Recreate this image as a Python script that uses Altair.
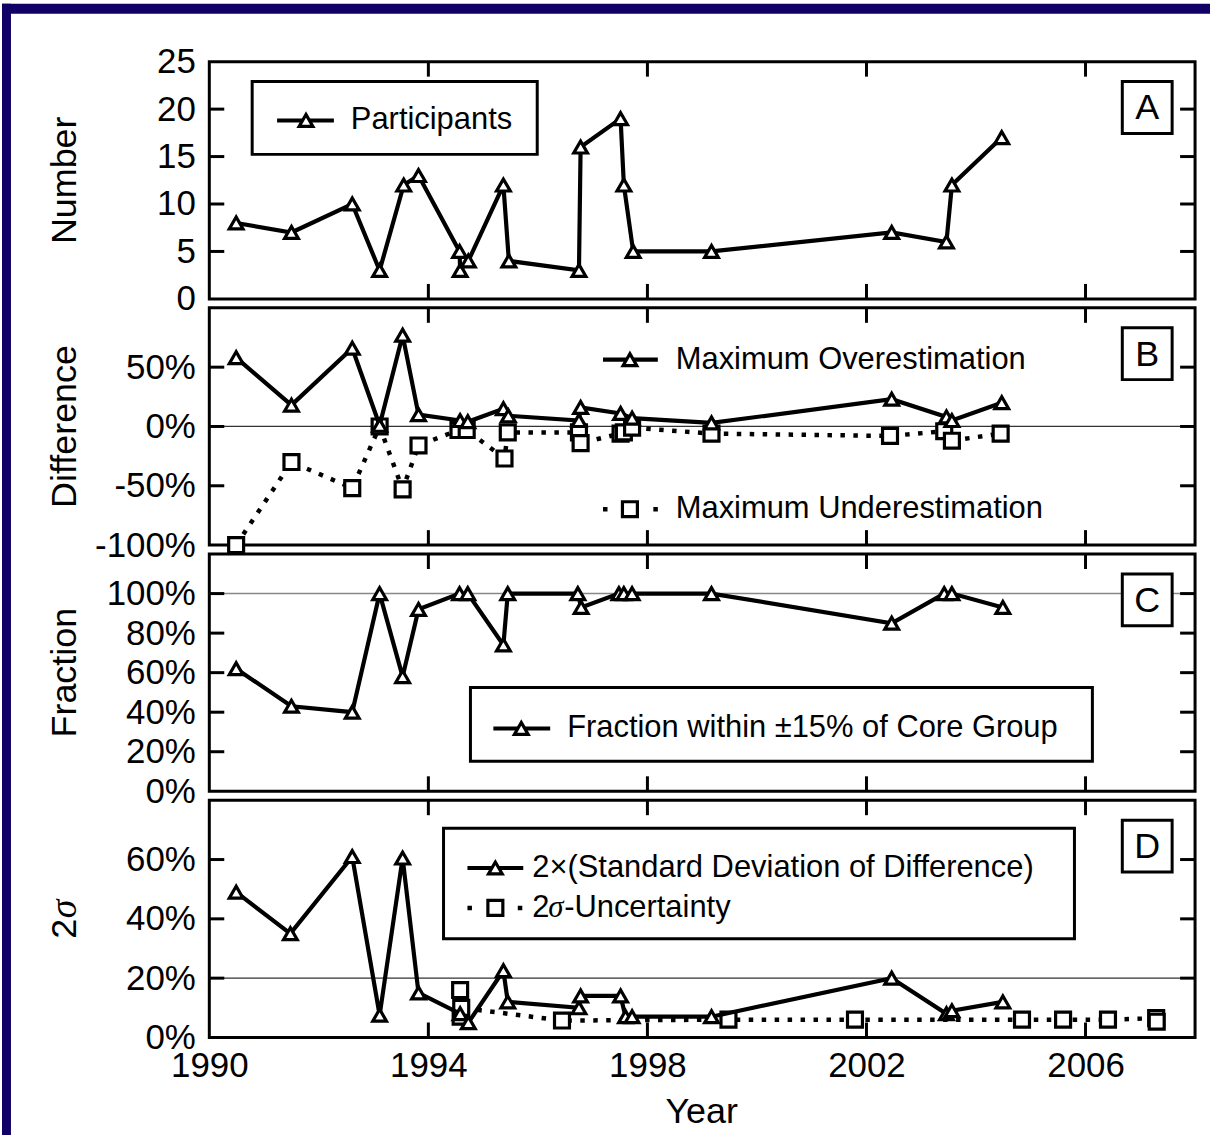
import altair as alt
import pandas as pd

FONT = "Liberation Sans"
NAVY = "#110066"
W, H = 989, 238

# ---------------- data ----------------
years_A = [1990.49, 1991.50, 1992.61, 1993.11, 1993.55, 1993.82, 1994.57, 1994.58, 1994.73,
           1995.37, 1995.47, 1996.75, 1996.78, 1997.51, 1997.57, 1997.74, 1999.17, 2002.46,
           2003.46, 2003.56, 2004.47]
participants = [8, 7, 10, 3, 12, 13, 5, 3, 4, 12, 4, 3, 16, 19, 12, 5, 5, 7, 6, 12, 17]

over_years = [1990.49, 1991.50, 1992.61, 1993.11, 1993.53, 1993.82, 1994.58, 1994.72, 1995.37,
              1995.46, 1996.75, 1996.78, 1997.51, 1997.72, 1999.17, 2002.46, 2003.46, 2003.56,
              2004.47]
over_pct = [58, 18, 66, 1, 77, 10, 5, 4, 15, 9, 5, 16, 11, 7, 3, 23, 8, 5, 20]

under_years = [1990.49, 1991.50, 1992.61, 1993.11, 1993.53, 1993.82, 1994.55, 1994.70, 1995.39,
               1995.45, 1996.75, 1996.78, 1997.51, 1997.57, 1997.72, 1999.17, 2002.43, 2003.42,
               2003.56, 2004.45]
under_pct = [-100, -30, -52, 0, -53, -16, -3, -3, -27, -5, -5, -14, -6, -5, -1, -6, -8, -4, -12, -6]

frac_years = [1990.49, 1991.50, 1992.61, 1993.11, 1993.53, 1993.82, 1994.57, 1994.72, 1995.37,
              1995.45, 1996.73, 1996.79, 1997.48, 1997.57, 1997.72, 1999.17, 2002.46, 2003.42,
              2003.56, 2004.49]
frac_pct = [62, 43, 40, 100, 58, 92, 100, 100, 74, 100, 100, 93, 100, 100, 100, 100, 85, 100, 100, 93]

sd_years = [1990.49, 1991.48, 1992.61, 1993.11, 1993.53, 1993.82, 1994.58, 1994.73, 1995.37,
            1995.45, 1996.75, 1996.78, 1997.51, 1997.60, 1997.72, 1999.17, 2002.46, 2003.46,
            2003.56, 2004.49]
sd_pct = [49, 35, 61, 7.5, 60.5, 15, 8, 5, 22.5, 12, 10, 14, 14, 7, 7, 7, 20, 8, 9, 12]

unc_years = [1994.58, 1994.59, 1994.60, 1996.44, 1999.48, 2001.79, 2004.84, 2005.59, 2006.41,
             2007.29, 2007.30]
unc_pct = [16, 7, 10, 5.7, 6, 6, 6, 6, 6, 6.5, 5.3]

x_tick_years = [1994, 1998, 2002, 2006]
x_label_years = [1990, 1994, 1998, 2002, 2006]

A_ticks = [5, 10, 15, 20]
A_labels = [0, 5, 10, 15, 20, 25]
B_ticks = [-50, 0, 50]
B_labels = [-100, -50, 0, 50]
C_ticks = [20, 40, 60, 80, 100]
C_labels = [0, 20, 40, 60, 80, 100]
D_ticks = [20, 40, 60]
D_labels = [0, 20, 40, 60]

one = pd.DataFrame({"k": [0]})

LINE_W = 4.2
MARK_W = 3.2
FRAME_W = 3


# ---------------- helpers ----------------
def xenc(field, show):
    if show:
        axis = alt.Axis(values=x_label_years, format="d", ticks=False, tickSize=0, domain=False,
                        grid=False, labelFontSize=35, labelPadding=11, labelFlush=False,
                        labelOverlap=False, labelBound=False, title=None)
    else:
        axis = None
    return alt.X(f"{field}:Q", scale=alt.Scale(domain=[1990, 2008], nice=False, zero=False), axis=axis)


def yenc(field, domain, labels, pct):
    kw = dict(values=labels, ticks=False, tickSize=0, domain=False, grid=False, labelFontSize=35,
              labelPadding=14, labelFlush=False, labelOverlap=False, labelBound=False, title=None)
    if pct:
        kw["labelExpr"] = "datum.value + '%'"
    else:
        kw["format"] = "d"
    return alt.Y(f"{field}:Q", scale=alt.Scale(domain=domain, nice=False, zero=False), axis=alt.Axis(**kw))


def frame_ticks(yticks, domain, labels, pct, show):
    xt = pd.DataFrame({"t": x_tick_years})
    yt = pd.DataFrame({"t": yticks})
    layers = []
    for (a, b) in [(0, 15), (H - 15, H)]:
        layers.append(alt.Chart(xt).mark_rule(color="black", strokeWidth=FRAME_W).encode(
            x=xenc("t", show), y=alt.value(a), y2=alt.value(b)))
    for (a, b) in [(0, 15), (W - 15, W)]:
        layers.append(alt.Chart(yt).mark_rule(color="black", strokeWidth=FRAME_W).encode(
            y=yenc("t", domain, labels, pct), x=alt.value(a), x2=alt.value(b)))
    return layers


def refline(v, domain, labels, pct, color, width):
    df = pd.DataFrame({"r": [v]})
    return alt.Chart(df).mark_rule(color=color, strokeWidth=width).encode(
        y=yenc("r", domain, labels, pct), x=alt.value(0), x2=alt.value(W))


def series(years, vals, shape, size, domain, labels, pct, show, dash=None):
    df = pd.DataFrame({"year": years, "value": vals, "i": list(range(len(years)))})
    base = alt.Chart(df).encode(x=xenc("year", show), y=yenc("value", domain, labels, pct))
    lkw = dict(color="black", strokeWidth=LINE_W if dash is None else 4.5)
    if dash is not None:
        lkw["strokeDash"] = dash
    line = base.mark_line(**lkw).encode(order="i:Q")
    pts = base.mark_point(shape=shape, size=size, filled=True, fill="white", stroke="black",
                          strokeWidth=MARK_W, opacity=1)
    return [line, pts]


def box(x1, y1, x2, y2, sw=FRAME_W, fill="white"):
    return alt.Chart(one).mark_rect(fill=fill, stroke="black", strokeWidth=sw).encode(
        x=alt.value(x1), x2=alt.value(x2), y=alt.value(y1), y2=alt.value(y2))


def navy(x1, y1, x2, y2):
    return alt.Chart(one).mark_rect(fill=NAVY, strokeWidth=0).encode(
        x=alt.value(x1), x2=alt.value(x2), y=alt.value(y1), y2=alt.value(y2))


def seg(x1, x2, y, dash=None, sw=LINE_W):
    kw = dict(color="black", strokeWidth=sw)
    if dash is not None:
        kw["strokeDash"] = dash
    return alt.Chart(one).mark_rule(**kw).encode(x=alt.value(x1), x2=alt.value(x2), y=alt.value(y))


def sym(x, y, shape, size):
    return alt.Chart(one).mark_point(shape=shape, size=size, filled=True, fill="white", stroke="black",
                                     strokeWidth=MARK_W, opacity=1).encode(x=alt.value(x), y=alt.value(y))


def txt(x, y, s, size=31, align="left", angle=0, font=FONT, style="normal", baseline="middle"):
    kw = dict(font=font, fontSize=size, align=align, baseline=baseline, color="black", fontStyle=style)
    if angle:
        kw["angle"] = angle
    return alt.Chart(one).mark_text(**kw).encode(x=alt.value(x), y=alt.value(y), text=alt.value(s))


def label_box(letter):
    return [box(916, 20, 966, 72), txt(941, 47, letter, size=36, align="center")]


TRI, TRI_S = "triangle-up", 190
SQ, SQ_S = "square", 225
DOT = [4.5, 8.5]

# ---------------- panel A ----------------
dA, lA = [0, 25], A_labels
panelA = alt.layer(
    navy(-208, -58, 1004, -48),
    navy(-208, -58, -199, 1077),
    *frame_ticks(A_ticks, dA, lA, False, False),
    *series(years_A, participants, TRI, TRI_S, dA, lA, False, False),
    box(43, 20, 329, 93),
    seg(68, 125, 59),
    sym(97, 59, TRI, TRI_S),
    txt(142, 59, "Participants"),
    *label_box("A"),
    txt(-145, 119, "Number", size=36, align="center", angle=270),
).properties(width=W, height=H)

# ---------------- panel B ----------------
dB, lB = [-100, 100], B_labels
panelB = alt.layer(
    refline(0, dB, lB, True, "#333", 1.3),
    *frame_ticks(B_ticks, dB, lB, True, False),
    *series(under_years, under_pct, SQ, SQ_S, dB, lB, True, False, dash=DOT),
    *series(over_years, over_pct, TRI, TRI_S, dB, lB, True, False),
    seg(395, 450, 52),
    sym(422, 52, TRI, TRI_S),
    txt(468, 52, "Maximum Overestimation"),
    seg(395, 450, 202, dash=[4.5, 46], sw=4.5),
    sym(422, 202, SQ, SQ_S),
    txt(468, 202, "Maximum Underestimation"),
    *label_box("B"),
    txt(-145, 119, "Difference", size=36, align="center", angle=270),
).properties(width=W, height=H)

# ---------------- panel C ----------------
dC, lC = [0, 120], C_labels
panelC = alt.layer(
    refline(100, dC, lC, True, "#888", 1.5),
    *frame_ticks(C_ticks, dC, lC, True, False),
    *series(frac_years, frac_pct, TRI, TRI_S, dC, lC, True, False),
    box(262, 134, 886, 208),
    seg(285, 342, 175),
    sym(313, 175, TRI, TRI_S),
    txt(359, 175, "Fraction within \u00b115% of Core Group"),
    *label_box("C"),
    txt(-145, 119, "Fraction", size=36, align="center", angle=270),
).properties(width=W, height=H)

# ---------------- panel D ----------------
dD, lD = [0, 80], D_labels
panelD = alt.layer(
    refline(20, dD, lD, True, "#333", 1.3),
    *frame_ticks(D_ticks, dD, lD, True, True),
    *series(unc_years, unc_pct, SQ, SQ_S, dD, lD, True, True, dash=DOT),
    *series(sd_years, sd_pct, TRI, TRI_S, dD, lD, True, True),
    box(235, 28, 868, 139),
    seg(259, 315, 68),
    sym(287, 68, TRI, TRI_S),
    txt(324, 68, "2\u00d7(Standard Deviation of Difference)"),
    seg(259, 315, 108, dash=[4.5, 46], sw=4.5),
    sym(287, 108, SQ, SQ_S),
    txt(324, 108, "2"),
    txt(340, 108, "\u03c3", font="Liberation Serif", style="italic"),
    txt(356, 108, "-Uncertainty"),
    *label_box("D"),
    txt(-145, 129, "2", size=36, align="center", angle=270),
    txt(-145, 109, "\u03c3", size=38, align="center", angle=270, font="Liberation Serif", style="italic"),
    txt(494, 313, "Year", size=36, align="center"),
).properties(width=W, height=H)

chart = alt.vconcat(panelA, panelB, panelC, panelD, spacing=9, bounds="flush").properties(
    padding={"left": 0, "top": 0, "right": 0, "bottom": 0},
    background="white",
).configure_view(stroke="black", strokeWidth=FRAME_W).configure_axis(
    labelFont=FONT, labelColor="black"
)

chart.save("out.html", embed_options={"renderer": "svg", "actions": False})
